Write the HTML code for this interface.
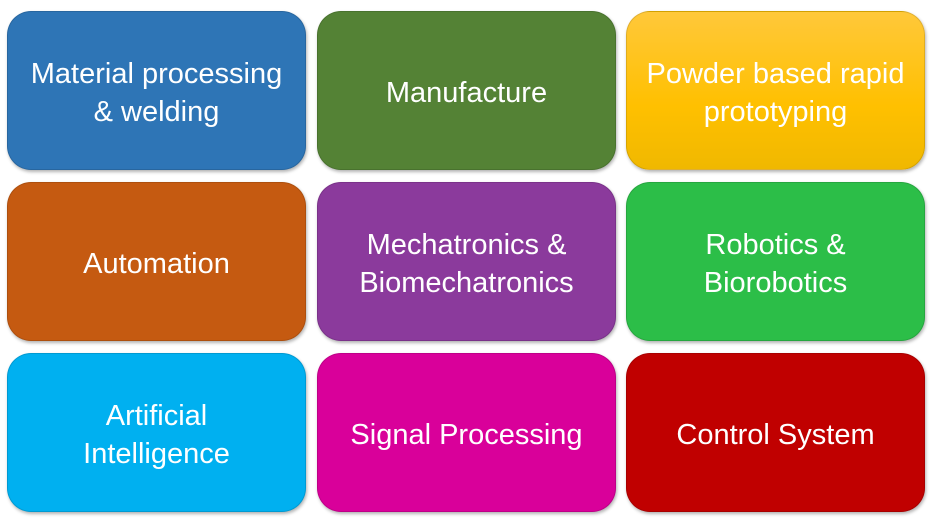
<!DOCTYPE html>
<html><head><style>
body{margin:0;width:933px;height:522px;background:#fff;position:relative;overflow:hidden;font-family:"Liberation Sans",sans-serif}
.b{position:absolute;width:299px;height:159px;border-radius:24px;display:flex;align-items:center;justify-content:center;text-align:center;color:#fff;font-size:29px;line-height:38px;padding-top:4px;box-shadow:1px 2px 3px rgba(0,0,0,0.3);border:1px solid rgba(0,0,0,0.12);box-sizing:border-box}
</style></head><body>
<div class="b" style="left:7px;top:11px;background:#2e75b6">Material processing<br>&amp; welding</div>
<div class="b" style="left:317px;top:11px;background:#548235">Manufacture</div>
<div class="b" style="left:626px;top:11px;background:linear-gradient(#ffc83a,#ffc000 60%,#f0b800)">Powder based rapid<br>prototyping</div>
<div class="b" style="left:7px;top:182px;background:#c55a11">Automation</div>
<div class="b" style="left:317px;top:182px;background:#8b3a9c">Mechatronics &amp;<br>Biomechatronics</div>
<div class="b" style="left:626px;top:182px;background:#2cbe48">Robotics &amp;<br>Biorobotics</div>
<div class="b" style="left:7px;top:353px;background:#00b0f0">Artificial<br>Intelligence</div>
<div class="b" style="left:317px;top:353px;background:#d9009a">Signal Processing</div>
<div class="b" style="left:626px;top:353px;background:#c00000">Control System</div>
</body></html>
